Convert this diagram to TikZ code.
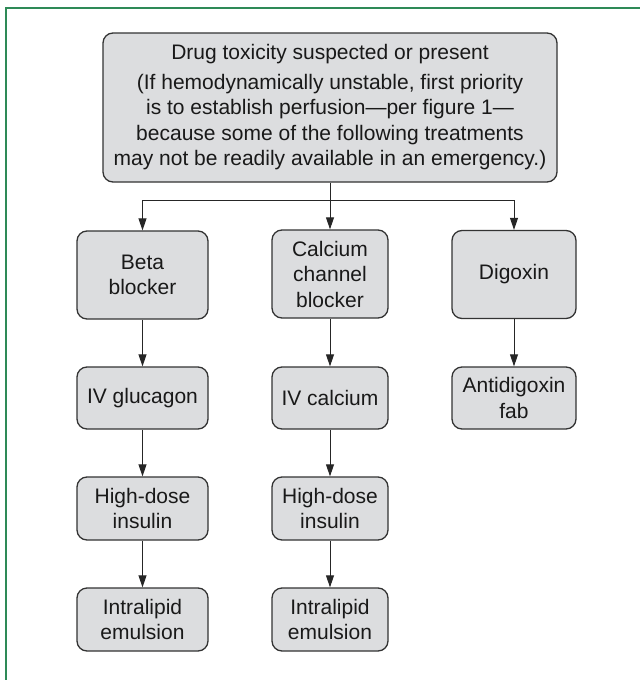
\documentclass[tikz,border=0pt]{standalone}
\usepackage{fontspec}
\setmainfont{Liberation Sans}
\usetikzlibrary{arrows.meta}
\definecolor{boxfill}{HTML}{DCDDDF}
\definecolor{boxline}{HTML}{333333}
\definecolor{framegreen}{HTML}{2E8A57}
\tikzset{
  box/.style={draw=boxline, line width=1.3pt, fill=boxfill, rounded corners=10pt,
    align=center, inner sep=0pt, font=\fontsize{21}{25.5}\selectfont, text=black!90},
  conn/.style={draw=black!85, line width=1pt, -{Triangle[length=12pt,width=8pt]}},
  plainline/.style={draw=black!85, line width=1pt},
}
\begin{document}
\begin{tikzpicture}[x=1pt,y=-1pt]
\useasboundingbox (0,0) rectangle (640,680);
\draw[framegreen, line width=2pt] (6,680) -- (6,8) -- (640,8);
\node[box, minimum width=454pt, minimum height=149pt] (top) at (330,107.5)
  {Drug toxicity suspected or present\\[4pt]
   (If hemodynamically unstable, first priority\\
   is to establish perfusion---per figure 1---\\
   because some of the following treatments\\
   may not be readily available in an emergency.)};
\node[box, minimum width=131pt, minimum height=88pt] (beta) at (142.5,275) {Beta\\blocker};
\node[box, minimum width=116pt, minimum height=88pt] (ccb) at (330,274) {Calcium\\channel\\blocker};
\node[box, minimum width=124pt, minimum height=88pt] (dig) at (514,274.5) {Digoxin};
\node[box, minimum width=131pt, minimum height=62pt] (glu) at (142.5,398) {IV glucagon};
\node[box, minimum width=116pt, minimum height=62pt] (cal) at (330,398) {IV calcium};
\node[box, minimum width=124pt, minimum height=62pt] (fab) at (514,398) {Antidigoxin\\fab};
\node[box, minimum width=131pt, minimum height=63pt] (ins1) at (142.5,508.5) {High-dose\\insulin};
\node[box, minimum width=116pt, minimum height=63pt] (ins2) at (330,508.5) {High-dose\\insulin};
\node[box, minimum width=131pt, minimum height=63pt] (lip1) at (142.5,619.5) {Intralipid\\emulsion};
\node[box, minimum width=116pt, minimum height=63pt] (lip2) at (330,619.5) {Intralipid\\emulsion};
\coordinate (split) at (330,200);
\draw[plainline] (top.south) -- (split);
\draw[conn] (split) -- (ccb.north);
\draw[conn] (split) -| (beta.north);
\draw[conn] (split) -| (dig.north);
\draw[conn] (beta) -- (glu);
\draw[conn] (glu) -- (ins1);
\draw[conn] (ins1) -- (lip1);
\draw[conn] (ccb) -- (cal);
\draw[conn] (cal) -- (ins2);
\draw[conn] (ins2) -- (lip2);
\draw[conn] (dig) -- (fab);
\end{tikzpicture}
\end{document}
